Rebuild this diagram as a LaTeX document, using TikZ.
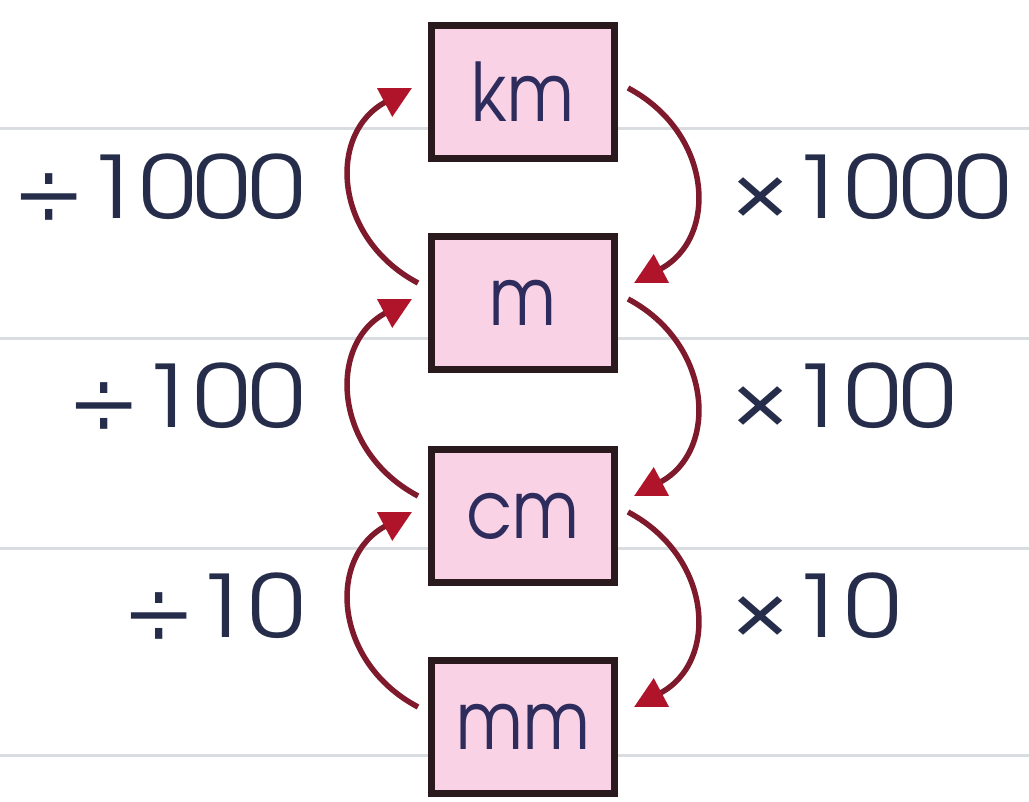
\documentclass[tikz,border=0pt]{standalone}
\usepackage{fontspec}
\setmainfont{TeX Gyre Adventor}
\usetikzlibrary{arrows.meta,calc}
\definecolor{boxpink}{HTML}{F9D2E5}
\definecolor{boxline}{HTML}{2A1A1E}
\definecolor{unitnavy}{HTML}{2E2C5C}
\definecolor{labelnavy}{HTML}{252D4A}
\definecolor{arrowred}{HTML}{7E1A2C}
\definecolor{tipred}{HTML}{B0142A}
\definecolor{rulegrey}{HTML}{D9DDE2}
\newcommand{\unitnarrow}[1]{\scalebox{0.88}[1]{#1}}
\newcommand{\labelwide}[1]{\scalebox{1.15}[1]{#1}}
\begin{document}
\begin{tikzpicture}[x=0.02cm,y=-0.02cm,
  unitbox/.style={draw=boxline,fill=boxpink,line width=0.14cm,minimum width=3.66cm,minimum height=2.68cm,inner sep=0pt,text=unitnavy,font=\fontsize{46}{46}\selectfont},
  lbl/.style={inner sep=0pt,text depth=0pt,text=labelnavy,font=\fontsize{49}{49}\selectfont},
  conv/.style={draw=arrowred,line width=0.11cm,-{Triangle[length=0.62cm,width=0.62cm,fill=tipred,color=tipred]}},
  rulefill/.style={draw=rulegrey,line width=0.06cm}]
\useasboundingbox (0,0) rectangle (1029,802);
\fill[white] (0,0) rectangle (1029,802);
\coordinate (r1a) at (0,128); \coordinate (r1b) at (1029,128);
\coordinate (r2a) at (0,338); \coordinate (r2b) at (1029,338);
\coordinate (r3a) at (0,548); \coordinate (r3b) at (1029,548);
\coordinate (r4a) at (0,755); \coordinate (r4b) at (1029,755);
\draw[rulefill] (r1a) -- (r1b);
\draw[rulefill] (r2a) -- (r2b);
\draw[rulefill] (r3a) -- (r3b);
\draw[rulefill] (r4a) -- (r4b);
\node[unitbox] (km) at (523,92) {\unitnarrow{km}};
\node[unitbox] (m) at (523,303) {\unitnarrow{m}};
\node[unitbox] (cm) at (523,516) {\unitnarrow{cm}};
\node[unitbox] (mm) at (523,727) {\unitnarrow{mm}};
% left: divide (upward)
\draw[conv] ($(m.west)+(-10,-20)$) .. controls +(-85,-45) and +(-85,45) .. ($(km.west)+(-16,-4)$);
\draw[conv] ($(cm.west)+(-10,-20)$) .. controls +(-85,-45) and +(-85,45) .. ($(m.west)+(-16,-4)$);
\draw[conv] ($(mm.west)+(-10,-20)$) .. controls +(-85,-45) and +(-85,45) .. ($(cm.west)+(-16,-4)$);
% right: multiply (downward)
\draw[conv] ($(km.east)+(10,-4)$) .. controls +(85,45) and +(85,-45) .. ($(m.east)+(16,-20)$);
\draw[conv] ($(m.east)+(10,-4)$) .. controls +(85,45) and +(85,-45) .. ($(cm.east)+(16,-20)$);
\draw[conv] ($(cm.east)+(10,-4)$) .. controls +(85,45) and +(85,-45) .. ($(mm.east)+(16,-20)$);
\node[lbl,anchor=east] (d1) at (305,186) {\labelwide{÷1000}};
\node[lbl,anchor=east] (d2) at (305,395) {\labelwide{÷100}};
\node[lbl,anchor=east] (d3) at (305,605) {\labelwide{÷10}};
\node[lbl,anchor=west] (t1) at (730,186) {\labelwide{×1000}};
\node[lbl,anchor=west] (t2) at (730,395) {\labelwide{×100}};
\node[lbl,anchor=west] (t3) at (730,605) {\labelwide{×10}};
\end{tikzpicture}
\end{document}
